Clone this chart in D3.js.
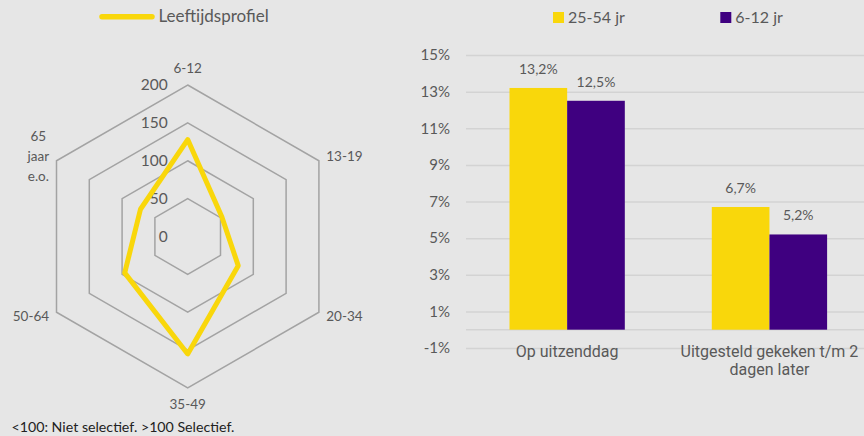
<!DOCTYPE html>
<html>
<head>
<meta charset="utf-8">
<script src="https://cdn.jsdelivr.net/npm/d3@7"></script>
<style>
    body { margin: 0; background: #e6e6e6; }
    svg { display: block; font-family: Lato, "Open Sans", sans-serif; }
    .axis text { fill: #595959; }
</style>
</head>
<body>
<div id="chart"></div>
<script>
// radar data (leeftijdsprofiel, index)
const ageGroups = ["6-12", "13-19", "20-34", "35-49", "50-64", "65\njaar\ne.o."];
const profileValues = [128, 52, 77, 155, 96, 72];
const ringTicks = [0, 50, 100, 150, 200];

// bar data
const viewMoments = ["Op uitzenddag", "Uitgesteld gekeken t/m 2 dagen later"];
const seriesNames = ["25-54 jr", "6-12 jr"];
const values2554 = [13.2, 6.7];
const values612 = [12.5, 5.2];
const yTicks = [-1, 1, 3, 5, 7, 9, 11, 13, 15];

const textColor = "#595959";
const yellow = "#f9d70b";
const purple = "#3f0080";

const svg = d3.select("#chart").append("svg")
    .attr("width", 864)
    .attr("height", 436);

svg.append("rect")
    .attr("width", 864)
    .attr("height", 436)
    .attr("fill", "#e6e6e6");

// ---------- radar ----------
const cx = 187.7, cy = 236.5;
const r = d3.scaleLinear().domain([0, 200]).range([0, 151.5]);
const angle = d3.scalePoint().domain(ageGroups).range([0, 2 * Math.PI * 5 / 6]);

function pt(cat, radius) {
    let a = angle(cat);
    return [cx + radius * Math.sin(a), cy - radius * Math.cos(a)];
}

const radar = svg.append("g").attr("class", "radar");

// rings
radar.selectAll(".ring")
    .data(ringTicks.filter(d => d > 0))
    .join("polygon")
    .attr("class", "ring")
    .attr("points", d => ageGroups.map(c => pt(c, r(d)).join(",")).join(" "))
    .attr("fill", "none")
    .attr("stroke", "#a3a3a3")
    .attr("stroke-width", 1.5);

// ring values
radar.selectAll(".ring-label")
    .data(ringTicks)
    .join("text")
    .attr("class", "ring-label")
    .attr("x", cx - 20)
    .attr("y", d => cy - r(d))
    .attr("dy", "0.35em")
    .attr("text-anchor", "end")
    .attr("font-size", 15.5)
    .attr("fill", textColor)
    .text(d => d);

// data line
const line = d3.line().curve(d3.curveLinearClosed);
radar.append("path")
    .datum(ageGroups.map((c, i) => pt(c, r(profileValues[i]))))
    .attr("d", line)
    .attr("fill", "none")
    .attr("stroke", yellow)
    .attr("stroke-width", 5)
    .attr("stroke-linejoin", "round");

// category labels
ageGroups.forEach(c => {
    let s = Math.sin(angle(c));
    let pad = Math.abs(s) < 0.1 ? 168 : 160;
    let [x, y] = pt(c, pad);
    let lines = c.split("\n");
    let t = radar.append("text")
        .attr("font-size", 13.5)
        .attr("fill", textColor)
        .attr("text-anchor", Math.abs(s) < 0.1 ? "middle" : (s > 0 ? "start" : "end"));
    lines.forEach((l, i) => {
        t.append("tspan")
            .attr("x", x)
            .attr("y", y + (i - (lines.length - 1) / 2) * 20)
            .attr("dy", "0.35em")
            .text(l);
    });
    if (lines.length > 1) {
        // multi-line labels are centered as a block
        let w = d3.max(t.selectAll("tspan").nodes(), n => n.getComputedTextLength());
        t.attr("text-anchor", "middle");
        t.selectAll("tspan").attr("x", s > 0 ? x + w / 2 : x - w / 2);
    }
});

// legend left
svg.append("line")
    .attr("x1", 102).attr("x2", 152)
    .attr("y1", 16.7).attr("y2", 16.7)
    .attr("stroke", yellow)
    .attr("stroke-width", 5.5)
    .attr("stroke-linecap", "round");
svg.append("text")
    .attr("x", 158.5)
    .attr("y", 16.5)
    .attr("dy", "0.35em")
    .attr("font-size", 17)
    .attr("fill", textColor)
    .text("Leeftijdsprofiel");

// footnote
svg.append("text")
    .attr("x", 11.5)
    .attr("y", 427.5)
    .attr("dy", "0.35em")
    .attr("font-size", 14.2)
    .attr("fill", "#222")
    .text("<100: Niet selectief. >100 Selectief.");

// ---------- bars ----------
const left = 466;
const y = d3.scaleLinear().domain([-1, 15]).range([348, 55]);
const x0 = d3.scaleBand()
    .domain(viewMoments)
    .range([left, 870.6])
    .paddingInner(0.43)
    .paddingOuter(0.215);
const x1 = d3.scaleBand()
    .domain(seriesNames)
    .range([0, x0.bandwidth()]);
const color = d3.scaleOrdinal().domain(seriesNames).range([yellow, purple]);

const yAxis = d3.axisLeft(y)
    .tickValues(yTicks)
    .tickSize(-(864 - left + 10))
    .tickPadding(16)
    .tickFormat(d => d + "%");

const gy = svg.append("g")
    .attr("class", "y-axis axis")
    .attr("transform", `translate(${left},0)`)
    .call(yAxis);
gy.select(".domain").remove();
gy.selectAll(".tick line").attr("stroke", "#d3d3d3").attr("stroke-width", 1.5);
gy.selectAll(".tick text").attr("font-size", 15).attr("font-family", "Lato");

// zero line
svg.append("line")
    .attr("x1", left).attr("x2", 864)
    .attr("y1", y(0)).attr("y2", y(0))
    .attr("stroke", "#d3d3d3")
    .attr("stroke-width", 1.5);

const rows = viewMoments.map((m, i) => ({
    moment: m,
    vals: [{s: seriesNames[0], v: values2554[i]}, {s: seriesNames[1], v: values612[i]}]
}));

const nl = d3.formatLocale({decimal: ",", thousands: ".", grouping: [3], currency: ["€", ""]});
const fmt = nl.format(".1f");

const groups = svg.selectAll(".group")
    .data(rows)
    .join("g")
    .attr("class", "group")
    .attr("transform", d => `translate(${x0(d.moment)},0)`);

groups.selectAll(".bar")
    .data(d => d.vals)
    .join("rect")
    .attr("class", "bar")
    .attr("x", d => x1(d.s))
    .attr("y", d => y(d.v))
    .attr("width", x1.bandwidth())
    .attr("height", d => y(0) - y(d.v))
    .attr("fill", d => color(d.s));

groups.selectAll(".val")
    .data(d => d.vals)
    .join("text")
    .attr("class", "val")
    .attr("x", d => x1(d.s) + x1.bandwidth() / 2)
    .attr("y", d => y(d.v) - 14)
    .attr("text-anchor", "middle")
    .attr("font-size", 14)
    .attr("fill", textColor)
    .text(d => fmt(d.v) + "%");

// x axis labels
const xAxis = d3.axisBottom(x0).tickSize(0).tickPadding(0);
const gx = svg.append("g")
    .attr("class", "x-axis axis")
    .attr("transform", `translate(0,${y(0)})`)
    .call(xAxis);
gx.select(".domain").remove();
gx.selectAll(".tick text")
    .attr("font-size", 16)
    .attr("font-family", "Roboto")
    .attr("y", 27)
    .attr("dy", 0)
    .call(wrap, 200);

function wrap(sel, width) {
    sel.each(function () {
        let text = d3.select(this);
        let words = text.text().split(/\s+/);
        let lineWords = [];
        text.text(null);
        let tspan = text.append("tspan").attr("x", 0).attr("y", 27);
        let lineNo = 0;
        words.forEach(w => {
            lineWords.push(w);
            tspan.text(lineWords.join(" "));
            if (tspan.node().getComputedTextLength() > width && lineWords.length > 1) {
                lineWords.pop();
                tspan.text(lineWords.join(" "));
                lineWords = [w];
                lineNo++;
                tspan = text.append("tspan").attr("x", 0).attr("y", 27 + lineNo * 18.5).text(w);
            }
        });
    });
}

// legend right
const legend = svg.selectAll(".legend")
    .data(seriesNames)
    .join("g")
    .attr("class", "legend")
    .attr("transform", (d, i) => `translate(${[553, 720.3][i]},12)`);
legend.append("rect")
    .attr("width", 11)
    .attr("height", 11)
    .attr("fill", d => color(d));
legend.append("text")
    .attr("x", 15)
    .attr("y", 5.5)
    .attr("dy", "0.35em")
    .attr("font-size", 16)
    .attr("fill", textColor)
    .text(d => d);
</script>
</body>
</html>
